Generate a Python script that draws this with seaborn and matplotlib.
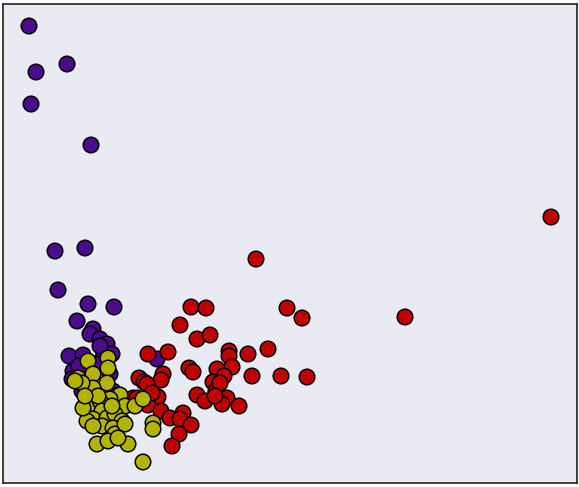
import pandas as pd
import matplotlib
matplotlib.use("Agg")
import matplotlib.pyplot as plt
import seaborn as sns

# positions (x right, y down)
purple_x = [29, 36, 67, 31, 91, 55, 85, 58, 88, 114, 77, 93, 90, 100, 107, 69, 83, 104, 112, 157,
            73, 82, 110, 113, 103, 79, 95, 100, 120, 105, 72, 90]
purple_y = [25, 71, 63, 103, 144, 250, 247, 289, 303, 306, 320, 328, 333, 338, 343, 355, 354, 352, 353, 358,
            370, 390, 373, 390, 357, 365, 363, 345, 395, 393, 378, 390]

red_x = [551, 256, 405, 191, 206, 287, 302, 180, 197, 210, 148, 168, 229, 229, 248, 268, 189, 193, 217, 232,
         224, 213, 252, 281, 307, 139, 144, 163, 161, 158, 197, 205, 216, 227, 222, 239, 148, 133, 161, 170,
         183, 180, 191, 179, 172, 147, 137, 220, 215, 152]
red_y = [216, 258, 316, 306, 307, 307, 317, 324, 338, 334, 353, 351, 350, 355, 353, 348, 367, 371, 368, 366,
         375, 381, 375, 375, 376, 377, 381, 373, 379, 396, 394, 400, 390, 397, 403, 405, 404, 397, 410, 417,
         412, 418, 424, 433, 445, 383, 397, 382, 395, 392]

yellow_x = [88, 108, 108, 78, 93, 107, 93, 82, 88, 120, 110, 100, 125, 135, 143, 102, 93, 107, 115, 122,
            102, 113, 115, 97, 108, 128, 143, 153, 153, 87, 83, 93, 125, 118, 98, 112, 75, 85]
yellow_y = [360, 357, 367, 377, 373, 382, 387, 382, 405, 394, 398, 400, 405, 405, 398, 410, 418, 417, 413, 420,
            425, 427, 433, 443, 440, 443, 461, 422, 428, 420, 407, 425, 423, 437, 395, 405, 380, 395]

classes = ["purple", "red", "yellow"]
colors = ["#4c0a8c", "#c00000", "#b4b400"]

df = pd.concat([
    pd.DataFrame({"x": purple_x, "y": purple_y, "cls": "purple"}),
    pd.DataFrame({"x": red_x, "y": red_y, "cls": "red"}),
    pd.DataFrame({"x": yellow_x, "y": yellow_y, "cls": "yellow"}),
], ignore_index=True)

sns.set_style("dark")
fig = plt.figure(figsize=(5.79, 4.87), dpi=100)
ax = fig.add_axes([3 / 579, 4 / 487, 574 / 579, 479 / 487])

sns.scatterplot(data=df, x="x", y="y", hue="cls", hue_order=classes, palette=colors,
                s=125, edgecolor="black", linewidth=1.1, legend=False, ax=ax)

ax.set_xlim(3, 577)
ax.set_ylim(482, 3)
ax.set_xticks([])
ax.set_yticks([])
ax.set_xlabel("")
ax.set_ylabel("")
for sp in ax.spines.values():
    sp.set_visible(True)
    sp.set_color("#222222")
    sp.set_linewidth(1.2)

fig.savefig("out.png", dpi=100)
